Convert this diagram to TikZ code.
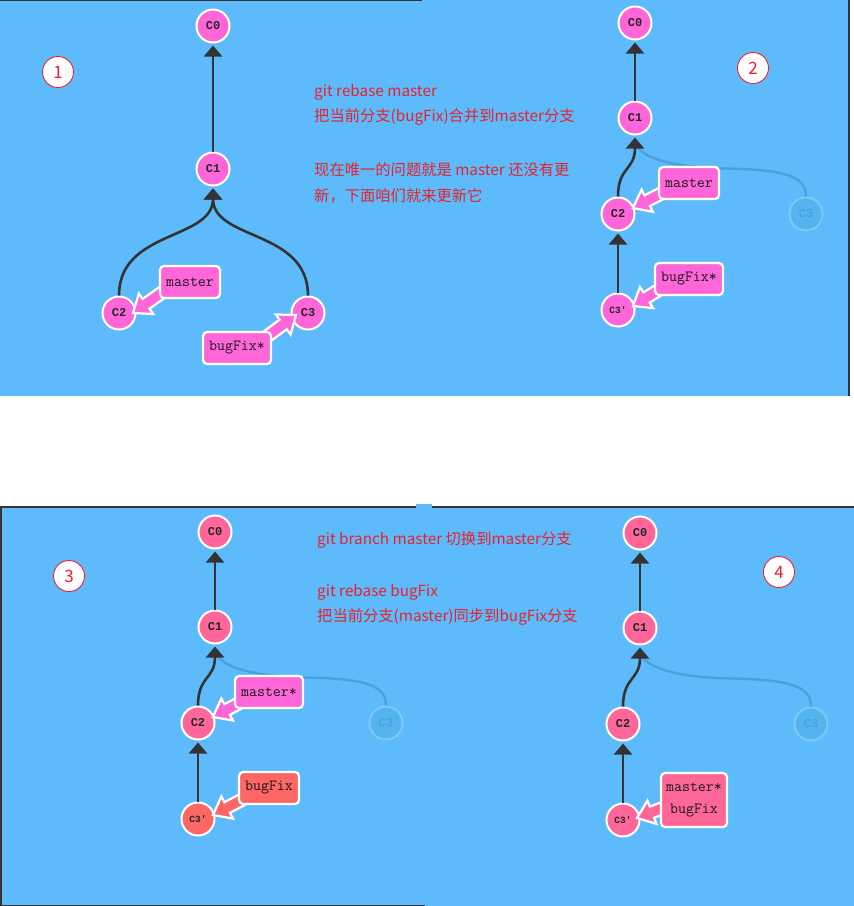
\documentclass[tikz,border=0pt]{standalone}
\usepackage{fontspec}
\setmainfont{Noto Sans CJK SC}
\newfontfamily\cjkfont{Noto Sans CJK SC}
\newfontfamily\cmono{Liberation Mono}
\usetikzlibrary{calc,arrows.meta}
\definecolor{bgblue}{HTML}{5DBBFB}
\definecolor{edgegray}{HTML}{333333}
\definecolor{pinkA}{HTML}{FF66DA}
\definecolor{pinkB}{HTML}{FF6699}
\definecolor{redC}{HTML}{FF6666}
\definecolor{fadefill}{HTML}{55B4EC}
\definecolor{fadedraw}{HTML}{7CC8F6}
\definecolor{fadetext}{HTML}{3FA0D8}
\definecolor{fadeline}{HTML}{4BA2D8}
\definecolor{notered}{HTML}{E8222C}
\tikzset{
  commit/.style={circle, draw=white, line width=2pt, minimum size=33pt, inner sep=0pt,
    font=\cmono\bfseries\fontsize{12}{14}\selectfont, text=black!85},
  commitsmall/.style={commit, font=\cmono\bfseries\fontsize{9.5}{11}\selectfont},
  commitedge/.style={draw=edgegray, line width=2.6pt, -{Triangle[width=18pt,length=11pt]}, shorten >=2pt},
  fadededge/.style={draw=fadeline, line width=2.4pt},
  branchlbl/.style={rectangle, rounded corners=4pt, draw=white, line width=2.2pt, inner xsep=6pt,
    minimum height=32pt, font=\ttfamily\fontsize{15.5}{20}\selectfont, text=black!90},
  numcirc/.style={circle, draw=notered, fill=white, line width=0.9pt, minimum size=31pt, inner sep=0pt,
    text=notered, font=\cjkfont\fontsize{17}{20}\selectfont},
  notetext/.style={anchor=west, inner sep=0pt, text=notered, font=\cjkfont\fontsize{15.3}{18}\selectfont},
  panelborder/.style={draw=edgegray, line width=1.6pt}
}
% fat branch arrow: #1 tail, #2 tip, #3 colour
\newcommand{\brarrow}[3]{%
  \coordinate (ba-n) at ($(#2)!16pt!(#1)$);
  \filldraw[fill=#3, draw=white, line width=2.2pt, line join=miter, miter limit=4]
    ($(#1)!6pt!90:(#2)$) -- ($(ba-n)!6pt!90:(#2)$) -- ($(ba-n)!12.5pt!90:(#2)$) -- (#2)
    -- ($(ba-n)!12.5pt!-90:(#2)$) -- ($(ba-n)!6pt!-90:(#2)$) -- ($(#1)!6pt!-90:(#2)$) -- cycle;}
% rebased graph in the coordinates of panel 2: #1 prefix, #2 commit colour, #3 colour of C3'
\newcommand{\rebasegraph}[3]{%
  \node[commit, fill=#2] (#1c0) at (635,23) {C0};
  \node[commit, fill=#2] (#1c1) at (635,118) {C1};
  \node[commit, fill=#2] (#1c2) at (618,214) {C2};
  \node[commitsmall, fill=#3] (#1c3p) at (618,310) {C3'};
  \node[commit, fill=fadefill, draw=fadedraw, text=fadetext, font=\cmono\fontsize{12}{14}\selectfont] (#1c3) at (806,214) {C3};
  \draw[fadededge] ($(#1c1.south)+(0,5)$) .. controls +(3,20) and +(-45,-1) .. ($(#1c3.north)+(-80,-28)$)
    .. controls +(65,1) and +(0,-18) .. (#1c3.north);
  \draw[commitedge] (#1c1) -- (#1c0);
  \draw[commitedge, shorten >=0pt] (#1c2.north) .. controls +(0,-30) and +(0,33) .. ($(#1c1.south)+(0,2)$);
  \draw[commitedge] (#1c3p) -- (#1c2);
}
\begin{document}
\begin{tikzpicture}[x=1pt,y=-1pt]
\useasboundingbox (0,0) rectangle (854,906);
\fill[white] (0,0) rectangle (854,906);
% panel backgrounds
\fill[bgblue] (0,0) rectangle (849,396);
\draw[panelborder] (0,0.6) -- (422,0.6);
\draw[panelborder] (849.2,0) -- (849.2,396);
\fill[bgblue] (0,506) rectangle (854,906);
\fill[bgblue] (416,503.5) rectangle (432,507);
\draw[panelborder] (0,506.8) -- (416,506.8);
\draw[panelborder] (432,506.8) -- (854,506.8);
\draw[panelborder] (1,506) -- (1,906);
\draw[panelborder] (0,905.4) -- (425,905.4);

% ---------------- panel 1 ----------------
\node[commit, fill=pinkA] (ac0) at (213,26) {C0};
\node[commit, fill=pinkA] (ac1) at (213,169) {C1};
\node[commit, fill=pinkA] (ac2) at (119,313) {C2};
\node[commit, fill=pinkA] (ac3) at (308,313) {C3};
\draw[commitedge] (ac1) -- (ac0);
\draw[commitedge, shorten >=0pt] (ac2.north) .. controls +(0,-66) and +(0,52) .. ($(ac1.south)+(0,2)$);
\draw[commitedge, shorten >=0pt] (ac3.north) .. controls +(0,-66) and +(0,52) .. ($(ac1.south)+(0,2)$);
\coordinate (a-mt) at (167,289);
\coordinate (a-mh) at (133,313);
\coordinate (a-bt) at (258,343);
\coordinate (a-bh) at (296,315);
\brarrow{a-mt}{a-mh}{pinkA}
\brarrow{a-bt}{a-bh}{pinkA}
\node[branchlbl, fill=pinkA] (alm) at (190,282) {master};
\node[branchlbl, fill=pinkA] (alb) at (237,348) {bugFix*};
\node[numcirc] (n1) at (58,72) {1};
\node[notetext] (t1) at (314,92) {git rebase master};
\node[notetext] (t2) at (314,117) {把当前分支(bugFix)合并到master分支};
\node[notetext] (t3) at (314,170) {现在唯一的问题就是 master 还没有更};
\node[notetext] (t4) at (314,196) {新，下面咱们就来更新它};

% ---------------- panel 2 ----------------
\rebasegraph{b}{pinkA}{pinkA}
\coordinate (b-mt) at (668,190);
\coordinate (b-mh) at (633,208);
\coordinate (b-bt) at (665,286);
\coordinate (b-bh) at (633,306);
\brarrow{b-mt}{b-mh}{pinkA}
\brarrow{b-bt}{b-bh}{pinkA}
\node[branchlbl, fill=pinkA] (blm) at (689,183) {master};
\node[branchlbl, fill=pinkA] (blb) at (689,279) {bugFix*};
\node[numcirc] (n2) at (753,68) {2};

% ---------------- panel 3 ----------------
\begin{scope}[shift={(-420,509)}]
\rebasegraph{c}{pinkB}{redC}
\end{scope}
\coordinate (c-mt) at (245,700);
\coordinate (c-mh) at (213,717);
\coordinate (c-bt) at (249,796);
\coordinate (c-bh) at (213,815);
\brarrow{c-mt}{c-mh}{pinkA}
\brarrow{c-bt}{c-bh}{redC}
\node[branchlbl, fill=pinkA] (clm) at (269,692) {master*};
\node[branchlbl, fill=redC] (clb) at (269,788) {bugFix};
\node[numcirc] (n3) at (69,576) {3};
\node[notetext] (t5) at (317,540) {git branch master 切换到master分支};
\node[notetext] (t6) at (317,592) {git rebase bugFix};
\node[notetext] (t7) at (317,617) {把当前分支(master)同步到bugFix分支};

% ---------------- panel 4 ----------------
\begin{scope}[shift={(5,510)}]
\rebasegraph{d}{pinkB}{pinkB}
\end{scope}
\coordinate (d-t) at (668,806);
\coordinate (d-h) at (637,818);
\brarrow{d-t}{d-h}{pinkB}
\node[branchlbl, fill=pinkB, align=center, minimum height=54pt, inner xsep=5pt] (dl) at (694,800) {master*\\[2pt]bugFix};
\node[numcirc] (n4) at (779,572) {4};
\end{tikzpicture}
\end{document}
